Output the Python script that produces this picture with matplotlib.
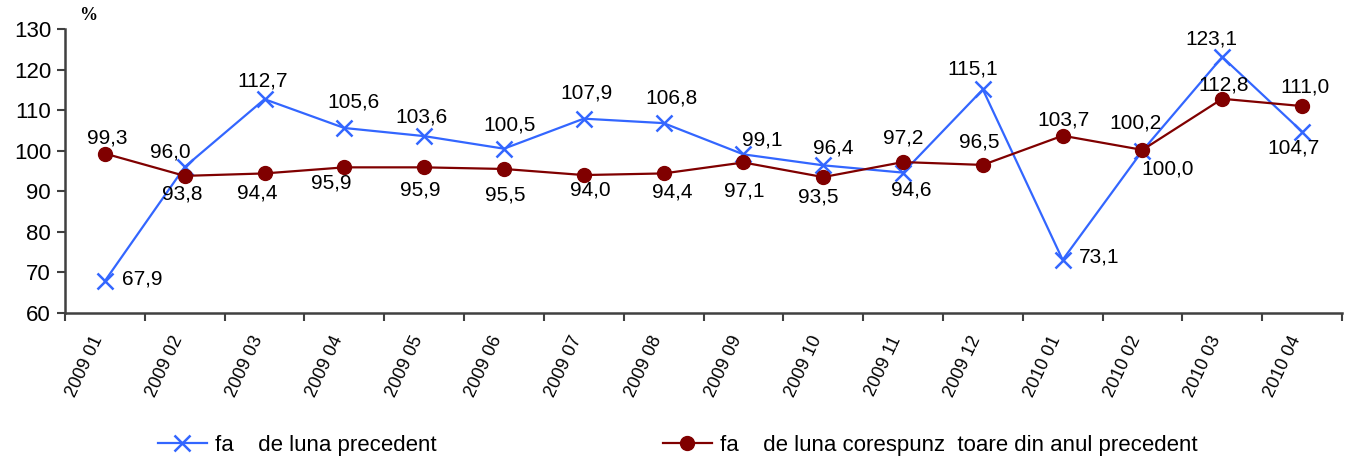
import matplotlib
matplotlib.use("Agg")
import matplotlib.pyplot as plt
import matplotlib.transforms as mtransforms
from matplotlib.ticker import FixedLocator, MultipleLocator

plt.rcParams['font.family'] = ['Liberation Sans', 'DejaVu Sans']

categories = ["2009 01", "2009 02", "2009 03", "2009 04", "2009 05", "2009 06",
              "2009 07", "2009 08", "2009 09", "2009 10", "2009 11", "2009 12",
              "2010 01", "2010 02", "2010 03", "2010 04"]
prev_month = [67.9, 96.0, 112.7, 105.6, 103.6, 100.5, 107.9, 106.8,
              99.1, 96.4, 94.6, 115.1, 73.1, 100.0, 123.1, 104.7]
same_month_prev_year = [99.3, 93.8, 94.4, 95.9, 95.9, 95.5, 94.0, 94.4,
                        97.1, 93.5, 97.2, 96.5, 103.7, 100.2, 112.8, 111.0]
label_prev = "fa    de luna precedent"
label_year = "fa    de luna corespunz  toare din anul precedent"

# label offsets in pixels (dx, dy) relative to each point
off_blue = [(37, 2), (-14, 15), (-2, 18), (9, 26), (-3, 19), (6, 24), (3, 26), (8, 25),
            (19, 14), (10, 17), (8, -17), (-10, 20), (36, 3), (25, -18), (-11, 18), (-9, -16)]
off_red = [(2, 16), (-2, -18), (-7, -20), (-13, -16), (-4, -23), (1, -26), (7, -15), (9, -19),
           (1, -29), (-5, -20), (0, 24), (-4, 23), (1, 16), (-7, 27), (1, 14), (3, 19)]

W, H = 1351, 461
fig = plt.figure(figsize=(W / 100, H / 100), dpi=100)
ax = fig.add_axes([65 / W, 1 - 313 / H, (1342 - 65) / W, (313 - 29) / H])

x = list(range(len(categories)))
blue = "#3366FF"
red = "#800000"
ax.plot(x, prev_month, color=blue, lw=1.6, marker='x', ms=11, mew=1.8, label=label_prev, zorder=3)
ax.plot(x, same_month_prev_year, color=red, lw=1.6, marker='o', ms=10, label=label_year, zorder=3)

def fmt(v):
    return f"{v:.1f}".replace('.', ',')

for i, v in enumerate(prev_month):
    dx, dy = off_blue[i]
    ax.annotate(fmt(v), (i, v), xytext=(dx, dy), textcoords='offset pixels',
                ha='center', va='center', fontsize=15, color='black', zorder=4)
for i, v in enumerate(same_month_prev_year):
    dx, dy = off_red[i]
    ax.annotate(fmt(v), (i, v), xytext=(dx, dy), textcoords='offset pixels',
                ha='center', va='center', fontsize=15, color='black', zorder=4)

ax.set_xlim(-0.5, len(categories) - 0.5)
ax.set_ylim(60, 130)
ax.yaxis.set_major_locator(MultipleLocator(10))
ax.tick_params(axis='y', labelsize=16, length=6, width=1.5, color='#404040', direction='out', pad=4)

ax.set_xticks(x)
ax.set_xticklabels(categories, rotation=65, ha='right', va='center', rotation_mode='anchor', fontsize=13)
ax.tick_params(axis='x', which='major', length=0, pad=17)
shift = mtransforms.ScaledTranslation(-6 / 100, 0, fig.dpi_scale_trans)
for lbl in ax.get_xticklabels():
    lbl.set_transform(lbl.get_transform() + shift)
ax.xaxis.set_minor_locator(FixedLocator([i - 0.5 for i in range(len(categories) + 1)]))
ax.tick_params(axis='x', which='minor', length=6, width=1.5, color='#404040', direction='out')

for s in ['top', 'right']:
    ax.spines[s].set_visible(False)
for s in ['left', 'bottom']:
    ax.spines[s].set_color('#404040')
    ax.spines[s].set_linewidth(1.8)

fig.text(88 / W, 1 - 16 / H, "%", fontsize=13, fontweight='bold', family=['Liberation Serif', 'DejaVu Serif'],
         ha='center', va='center')

fig.legend(loc='center left', bbox_to_anchor=(158 / W, 1 - 445 / H), ncol=2, frameon=False,
           fontsize=16, handlelength=2.2, handletextpad=0.35, columnspacing=10.2, borderpad=0,
           borderaxespad=0)

fig.savefig("out.png", dpi=100)
